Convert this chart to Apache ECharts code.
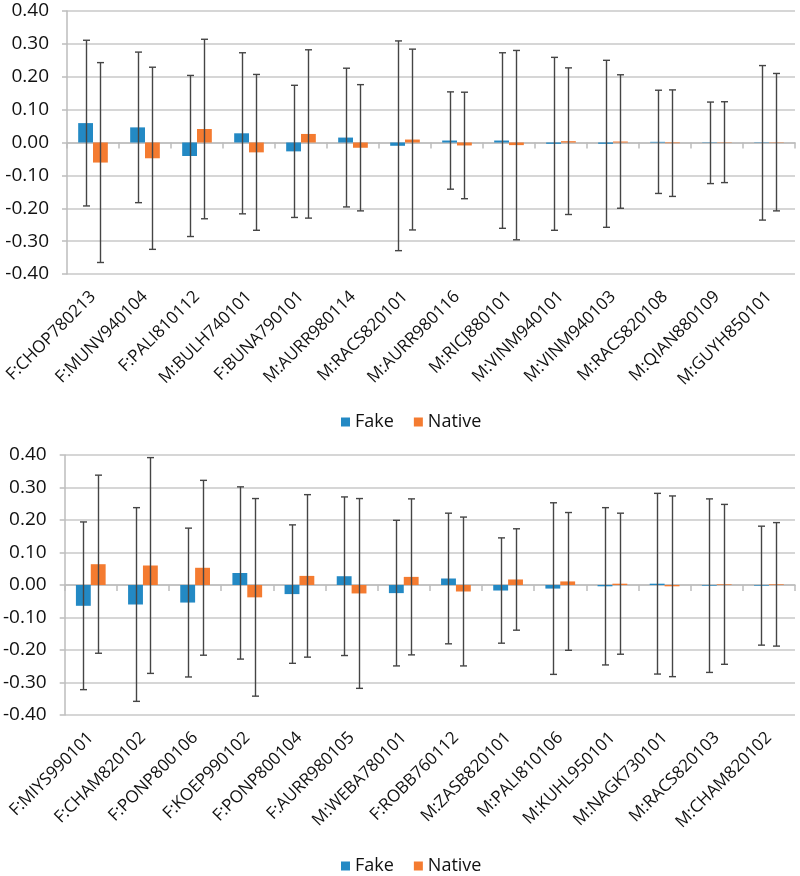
<!DOCTYPE html>
<html>
<head>
<meta charset="utf-8">
<script src="https://cdn.jsdelivr.net/npm/echarts@6/dist/echarts.min.js"></script>
<style>html,body{margin:0;padding:0;background:#fff;}#c{width:800px;height:876px;}</style>
</head>
<body>
<div id="c"></div>
<script>
var cats1 = ['F:CHOP780213','F:MUNV940104','F:PALI810112','M:BULH740101','F:BUNA790101','M:AURR980114','M:RACS820101','M:AURR980116','M:RICJ880101','M:VINM940101','M:VINM940103','M:RACS820108','M:QIAN880109','M:GUYH850101'];
var fake1 = [0.059,0.046,-0.041,0.028,-0.027,0.015,-0.010,0.006,0.006,-0.004,-0.004,0.002,-0.001,-0.001];
var fake1Sd = [0.252,0.229,0.245,0.245,0.201,0.211,0.319,0.148,0.267,0.263,0.254,0.157,0.124,0.235];
var native1 = [-0.061,-0.048,0.041,-0.030,0.026,-0.016,0.009,-0.009,-0.008,0.004,0.003,-0.002,0.001,0.001];
var native1Sd = [0.304,0.277,0.273,0.237,0.256,0.192,0.275,0.162,0.288,0.223,0.203,0.162,0.123,0.209];

var cats2 = ['F:MIYS990101','F:CHAM820102','F:PONP800106','F:KOEP990102','F:PONP800104','F:AURR980105','M:WEBA780101','F:ROBB760112','M:ZASB820101','M:PALI810106','M:KUHL950101','M:NAGK730101','M:RACS820103','M:CHAM820102'];
var fake2 = [-0.064,-0.060,-0.054,0.037,-0.028,0.027,-0.025,0.020,-0.017,-0.011,-0.004,0.004,-0.002,-0.002];
var fake2Sd = [0.258,0.298,0.229,0.265,0.213,0.244,0.224,0.201,0.162,0.264,0.242,0.278,0.267,0.183];
var native2 = [0.064,0.060,0.053,-0.038,0.028,-0.026,0.025,-0.020,0.017,0.011,0.004,-0.004,0.002,0.002];
var native2Sd = [0.274,0.332,0.269,0.304,0.250,0.292,0.240,0.229,0.156,0.212,0.217,0.278,0.246,0.190];

var yTicks = {min: -0.4, max: 0.4, interval: 0.1};

var BLUE = '#2389C4', ORANGE = '#F47B30';
var FONT = 'Open Sans';
var GAP = 0.43;

function errData(vals, sds){
  return vals.map(function(v,i){ return [i, v - sds[i], v + sds[i]]; });
}
function errRender(sign){
  return function(params, api){
    var x = api.value(0), lo = api.value(1), hi = api.value(2);
    var band = api.size([1,0])[0];
    var off = sign * band * (1-GAP) / 4;
    var p1 = api.coord([x, hi]), p2 = api.coord([x, lo]);
    var cx = Math.round(p1[0] + off) + 0.5;
    var hw = 3.5;
    var st = {stroke:'#454545', lineWidth:1.4};
    return {type:'group', children:[
      {type:'line', shape:{x1:cx,y1:p1[1],x2:cx,y2:p2[1]}, style:st},
      {type:'line', shape:{x1:cx-hw,y1:p1[1],x2:cx+hw,y2:p1[1]}, style:st},
      {type:'line', shape:{x1:cx-hw,y1:p2[1],x2:cx+hw,y2:p2[1]}, style:st}
    ]};
  };
}

var grids = [
  {left:67, right:5, top:11, height:263},
  {left:63, right:5, top:455, height:260}
];
var xAxes = [], yAxes = [], series = [];
[[cats1,fake1,fake1Sd,native1,native1Sd],[cats2,fake2,fake2Sd,native2,native2Sd]].forEach(function(d, g){
  xAxes.push({
    type:'category', gridIndex:g, data:d[0], position:'bottom',
    axisLine:{show:false, onZero:false}, axisTick:{show:false}, splitLine:{show:false},
    axisLabel:{interval:0, rotate:45, margin:20, fontFamily:FONT, fontSize:17, color:'#111'}
  });
  xAxes.push({
    type:'category', gridIndex:g, data:d[0], position:'top',
    axisLine:{show:true, onZero:true, lineStyle:{color:'#bdbdbd', width:1.5}},
    axisTick:{show:true, inside:true, length:6, interval:0, lineStyle:{color:'#bdbdbd', width:1.5}},
    axisLabel:{show:false}, splitLine:{show:false}
  });
  yAxes.push({
    type:'value', gridIndex:g, min:yTicks.min, max:yTicks.max, interval:yTicks.interval,
    axisLine:{show:true, lineStyle:{color:'#bdbdbd', width:1.5}},
    axisTick:{show:true, length:5, lineStyle:{color:'#bdbdbd', width:1.5}},
    splitLine:{show:true, lineStyle:{color:'#c8c8c8', width:1.5}},
    axisLabel:{margin:18, fontFamily:FONT, fontSize:19, color:'#111', formatter:function(v){return v.toFixed(2);}}
  });
  var xi = g*2, yi = g;
  series.push({name:'Fake', type:'bar', xAxisIndex:xi, yAxisIndex:yi, data:d[1],
    barCategoryGap:(GAP*100)+'%', barGap:'0%',
    itemStyle:{color:BLUE}});
  series.push({name:'Native', type:'bar', xAxisIndex:xi, yAxisIndex:yi, data:d[3],
    barCategoryGap:(GAP*100)+'%', barGap:'0%',
    itemStyle:{color:ORANGE}});
  series.push({type:'custom', xAxisIndex:xi, yAxisIndex:yi, z:5, renderItem:errRender(-1),
    data:errData(d[1], d[2]), silent:true});
  series.push({type:'custom', xAxisIndex:xi, yAxisIndex:yi, z:5, renderItem:errRender(1),
    data:errData(d[3], d[4]), silent:true});
});

var legendBase = {data:['Fake','Native'], icon:'rect', itemWidth:9, itemHeight:9, itemGap:20,
  textStyle:{fontFamily:FONT, fontSize:18, color:'#111'}};
var chart = echarts.init(document.getElementById('c'), null, {renderer:'canvas'});
chart.setOption({
  animation:false,
  backgroundColor:'#ffffff',
  color:[BLUE, ORANGE],
  grid:grids,
  xAxis:xAxes,
  yAxis:yAxes,
  legend:[
    Object.assign({}, legendBase, {left:336, top:408}),
    Object.assign({}, legendBase, {left:336, top:852})
  ],
  series:series
});
</script>
</body>
</html>
